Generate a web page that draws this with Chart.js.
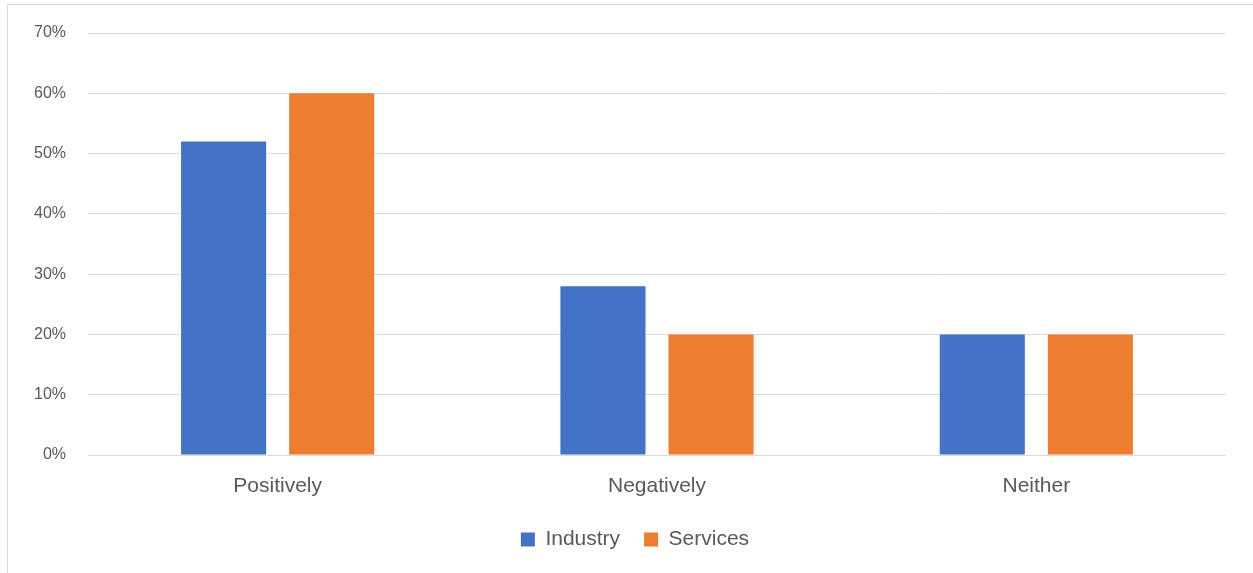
<!DOCTYPE html>
<html><head><meta charset="utf-8">
<script src="https://cdn.jsdelivr.net/npm/chart.js@4.4.0/dist/chart.umd.min.js"></script>
<style>
html,body{margin:0;padding:0;background:#fff;overflow:hidden;}
#frame{position:absolute;left:7px;top:4px;width:1260px;height:590px;border:1px solid #d9d9d9;box-sizing:border-box;}
#wrap{position:absolute;left:0;top:0;width:1253px;height:573px;}
</style></head>
<body>
<div id="frame"></div>
<div id="wrap"><canvas id="c" width="1253" height="573"></canvas></div>
<script>
const categories = ["Positively", "Negatively", "Neither"];
const industry = [52, 28, 20];
const services = [60, 20, 20];
const seriesNames = ["Industry", "Services"];
const FONT = "'Liberation Sans', Arial, sans-serif";
const shiftLegend = {
  id: 'shiftLegend',
  afterLayout(chart) {
    const lg = chart.legend;
    if (lg) { lg.left += 22; lg.right += 22; }
  }
};
new Chart(document.getElementById('c'), {
  type: 'bar',
  data: {
    labels: categories,
    datasets: [
      {label: seriesNames[0], data: industry, backgroundColor: '#4472C4', categoryPercentage: 0.57, barPercentage: 0.787},
      {label: seriesNames[1], data: services, backgroundColor: '#ED7D31', categoryPercentage: 0.57, barPercentage: 0.787}
    ]
  },
  plugins: [shiftLegend],
  options: {
    responsive: false,
    animation: false,
    layout: {padding: {left: 0, right: 27, top: 33, bottom: 13}},
    plugins: {
      tooltip: {enabled: false},
      legend: {
        position: 'bottom',
        labels: {font: {family: FONT, size: 21}, color: '#595959', boxWidth: 14, boxHeight: 14, padding: 24}
      }
    },
    scales: {
      x: {
        grid: {display: false, drawTicks: false},
        border: {display: false},
        ticks: {font: {family: FONT, size: 21}, color: '#595959', padding: 19},
        afterFit: s => { s.height = 50; }
      },
      y: {
        min: 0, max: 70,
        grid: {color: '#d9d9d9', lineWidth: 1, drawTicks: false},
        border: {display: false},
        ticks: {stepSize: 10, font: {family: FONT, size: 16}, color: '#595959', padding: 22, callback: v => v + '%'},
        afterFit: s => { s.width = 88; }
      }
    }
  }
});
</script>
</body></html>
